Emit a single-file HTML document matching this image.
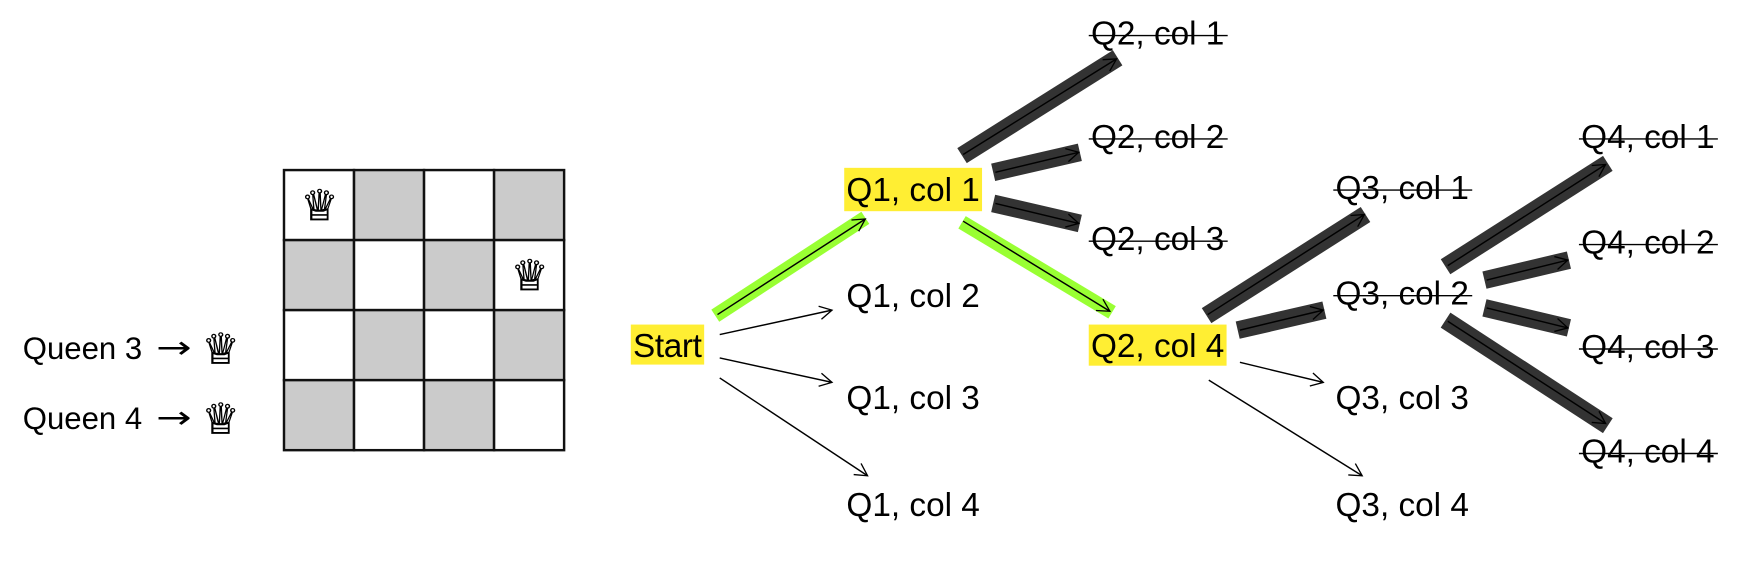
<!DOCTYPE html>
<html><head><meta charset="utf-8"><style>html,body{margin:0;padding:0;background:#fff}svg{display:block}</style></head>
<body>
<svg width="1744" height="588" viewBox="0 0 1568 529" xmlns="http://www.w3.org/2000/svg" font-family="'Liberation Sans', 'DejaVu Sans', sans-serif">
<defs>
<marker id="ah" markerWidth="14" markerHeight="14" refX="12" refY="7" orient="auto" markerUnits="userSpaceOnUse">
<path d="M1,1 L12,7 L1,13" fill="none" stroke="#000" stroke-width="1.2"/>
</marker>
</defs>
<rect width="1568" height="529" fill="#fff"/>
<!-- board -->
<g stroke="#111" stroke-width="2.2">
<rect x="255" y="153" width="63" height="63" fill="#fff"/><rect x="318" y="153" width="63" height="63" fill="#cbcbcb"/><rect x="381" y="153" width="63" height="63" fill="#fff"/><rect x="444" y="153" width="63" height="63" fill="#cbcbcb"/>
<rect x="255" y="216" width="63" height="63" fill="#cbcbcb"/><rect x="318" y="216" width="63" height="63" fill="#fff"/><rect x="381" y="216" width="63" height="63" fill="#cbcbcb"/><rect x="444" y="216" width="63" height="63" fill="#fff"/>
<rect x="255" y="279" width="63" height="63" fill="#fff"/><rect x="318" y="279" width="63" height="63" fill="#cbcbcb"/><rect x="381" y="279" width="63" height="63" fill="#fff"/><rect x="444" y="279" width="63" height="63" fill="#cbcbcb"/>
<rect x="255" y="342" width="63" height="63" fill="#cbcbcb"/><rect x="318" y="342" width="63" height="63" fill="#fff"/><rect x="381" y="342" width="63" height="63" fill="#cbcbcb"/><rect x="444" y="342" width="63" height="63" fill="#fff"/>
</g>
<g font-family="'DejaVu Sans', sans-serif" font-size="38" text-anchor="middle" stroke="#000" stroke-width="0.6">
<text x="287" y="198">♕</text><text x="476" y="261">♕</text>
<text x="198" y="327">♕</text><text x="198" y="390">♕</text>
</g>
<text x="20" y="323" font-size="28">Queen 3</text>
<text x="20" y="386" font-size="28">Queen 4</text>
<text x="140" y="322" font-size="28" font-family="'DejaVu Sans', sans-serif" textLength="32" lengthAdjust="spacingAndGlyphs">→</text>
<text x="140" y="385" font-size="28" font-family="'DejaVu Sans', sans-serif" textLength="32" lengthAdjust="spacingAndGlyphs">→</text>
<!-- highlights -->
<g fill="#ffee33">
<rect x="567" y="292" width="66" height="36"/>
<rect x="759" y="151" width="124" height="39"/>
<rect x="979" y="292" width="124" height="37"/>
</g>
<!-- bands -->
<g stroke-linecap="butt">
<g stroke="#99ff33" stroke-width="13">
<line x1="643" y1="284" x2="778" y2="196"/>
<line x1="865" y1="200" x2="1000" y2="281"/>
</g>
<g stroke="#333" stroke-width="16">
<line x1="865" y1="140" x2="1005" y2="52"/>
<line x1="893" y1="155" x2="971" y2="137"/>
<line x1="893" y1="183" x2="971" y2="201"/>
<line x1="1085" y1="284" x2="1228" y2="193"/>
<line x1="1113" y1="297" x2="1191" y2="279"/>
<line x1="1300" y1="240" x2="1446" y2="147"/>
<line x1="1335" y1="252" x2="1411" y2="234"/>
<line x1="1335" y1="277" x2="1411" y2="295"/>
<line x1="1300" y1="288" x2="1446" y2="383"/>
</g>
</g>
<!-- arrows -->
<g stroke="#000" stroke-width="1.3" marker-end="url(#ah)">
<line x1="645" y1="283" x2="778" y2="197"/>
<line x1="647" y1="301" x2="748" y2="279"/>
<line x1="647" y1="322" x2="748" y2="344"/>
<line x1="647" y1="340" x2="780" y2="428"/>
<line x1="866" y1="139" x2="1004" y2="53"/>
<line x1="895" y1="155" x2="970" y2="137"/>
<line x1="895" y1="183" x2="970" y2="201"/>
<line x1="866" y1="199" x2="998" y2="280"/>
<line x1="1086" y1="283" x2="1227" y2="193"/>
<line x1="1115" y1="297" x2="1190" y2="279"/>
<line x1="1115" y1="326" x2="1190" y2="344"/>
<line x1="1087" y1="342" x2="1225" y2="428"/>
<line x1="1302" y1="239" x2="1444" y2="148"/>
<line x1="1337" y1="252" x2="1410" y2="234"/>
<line x1="1337" y1="277" x2="1410" y2="295"/>
<line x1="1302" y1="289" x2="1444" y2="381"/>
</g>
<!-- labels -->
<g font-size="30" fill="#000">
<text x="569" y="321" textLength="62">Start</text>
<text x="761" y="181" textLength="120">Q1, col 1</text>
<text x="761" y="276" textLength="120">Q1, col 2</text>
<text x="761" y="368" textLength="120">Q1, col 3</text>
<text x="761" y="464" textLength="120">Q1, col 4</text>
<text x="981" y="40" textLength="120">Q2, col 1</text>
<text x="981" y="133" textLength="120">Q2, col 2</text>
<text x="981" y="225" textLength="120">Q2, col 3</text>
<text x="981" y="321" textLength="120">Q2, col 4</text>
<text x="1201" y="179" textLength="120">Q3, col 1</text>
<text x="1201" y="274" textLength="120">Q3, col 2</text>
<text x="1201" y="368" textLength="120">Q3, col 3</text>
<text x="1201" y="464" textLength="120">Q3, col 4</text>
<text x="1422" y="133" textLength="120">Q4, col 1</text>
<text x="1422" y="228" textLength="120">Q4, col 2</text>
<text x="1422" y="322" textLength="120">Q4, col 3</text>
<text x="1422" y="416" textLength="120">Q4, col 4</text>
</g>
<!-- strikethroughs -->
<g stroke="#000" stroke-width="1.3">
<line x1="979" y1="32" x2="1104" y2="32"/>
<line x1="979" y1="125" x2="1104" y2="125"/>
<line x1="979" y1="217" x2="1104" y2="217"/>
<line x1="1199" y1="171" x2="1324" y2="171"/>
<line x1="1199" y1="266" x2="1324" y2="266"/>
<line x1="1420" y1="125" x2="1545" y2="125"/>
<line x1="1420" y1="220" x2="1545" y2="220"/>
<line x1="1420" y1="314" x2="1545" y2="314"/>
<line x1="1420" y1="408" x2="1545" y2="408"/>
</g>
</svg>
</body></html>
